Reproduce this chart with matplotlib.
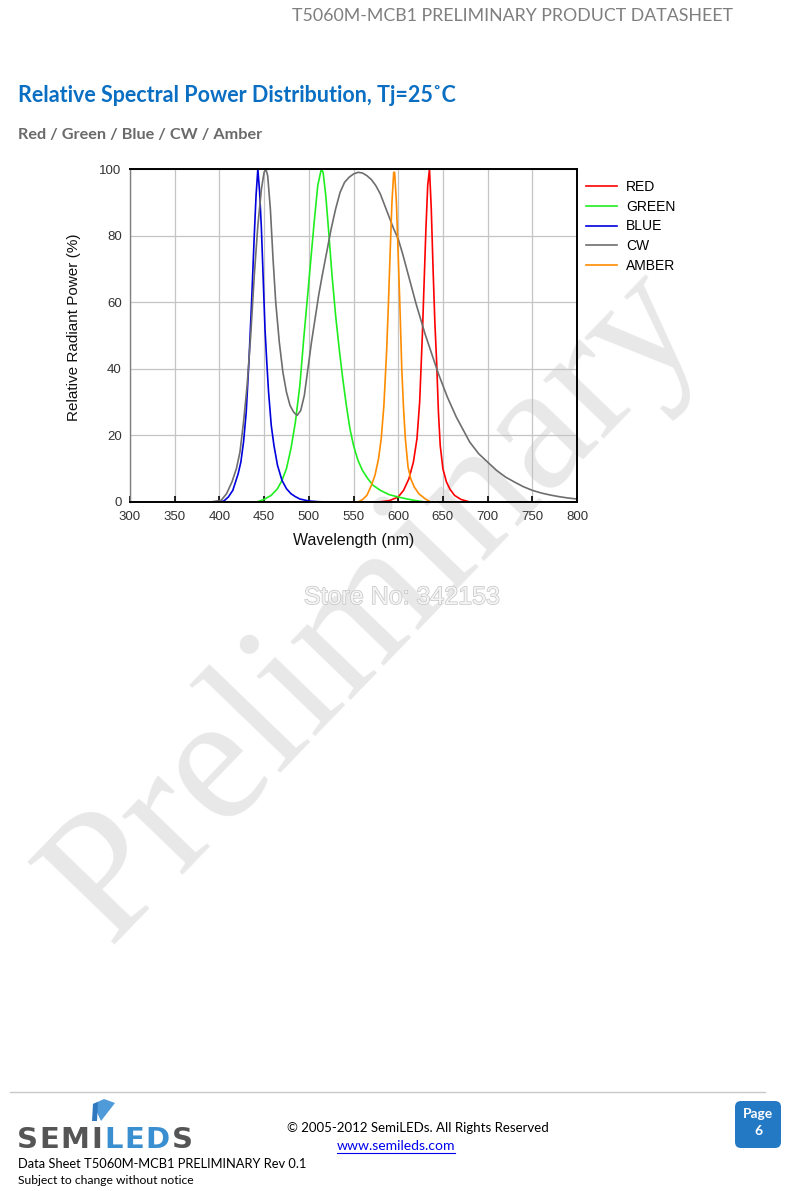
import numpy as np
import matplotlib
matplotlib.use("Agg")
import matplotlib.pyplot as plt
import matplotlib.patheffects as pe
from matplotlib.patches import FancyBboxPatch, Polygon
from matplotlib.transforms import Affine2D

nan = float("nan")

# spectra: wavelength (nm) / relative power (%)
RED_NM = [578, 590, 600, 606, 612, 617, 621, 624, 627, 629, 631, 633, 635,
          637, 639, 641, 643, 645, 647, 650, 654, 658, 663, 670, 680]
RED_PCT = [0, 0.4, 1.5, 3.5, 7, 12, 19, 30, 50, 66, 82, 95, 100,
           88, 70, 54, 42, 27, 17, 10, 6, 3.8, 2, 0.8, 0]

GREEN_NM = [442, 450, 458, 465, 470, 475, 480, 485, 490, 494, 498, 502, 506,
            510, 514, 516, 519, 522, 526, 530, 534, 538, 542, 546, 550, 555,
            560, 566, 572, 580, 590, 600, 610, 620, 630]
GREEN_PCT = [0, 0.8, 2, 4, 6.5, 10, 16, 24, 35, 48, 60, 72, 84,
             95, 100, 99, 92, 82, 68, 56, 46, 37, 29, 22, 17, 12.5,
             9.5, 7, 5, 3.5, 2.2, 1.5, 0.9, 0.4, 0]

BLUE_NM = [400, 405, 410, 415, 418, 421, 424, 427, 430, 433, 436, 439, 441,
           443, 445, 447, 449, 451, 453, 455, 458, 461, 465, 470, 475, 480,
           485, 490, 500, 510, 520, nan, 560, 640, nan, 780, 800]
BLUE_PCT = [0, 0.3, 1.5, 3.5, 6, 8.5, 12, 18, 27, 42, 60, 80, 92,
            100, 93, 82, 67, 52, 42, 33, 23, 17, 11, 6.5, 4, 2.5,
            1.6, 0.9, 0.3, 0.1, 0, nan, 0, 0, nan, 0, 0]

CW_NM = [390, 402, 408, 414, 419, 423, 427, 431, 435, 439, 443, 447, 450,
         452, 454, 457, 460, 463, 467, 471, 475, 479, 483, 487, 491, 495,
         499, 503, 507, 511, 515, 520, 525, 530, 535, 540, 545, 550, 555,
         560, 565, 570, 575, 580, 585, 590, 595, 600, 605, 610, 615, 620,
         625, 630, 635, 640, 645, 650, 655, 660, 665, 670, 675, 680, 690,
         700, 710, 720, 730, 740, 750, 760, 770, 780, 790, 800]
CW_PCT = [0, 0.5, 2.5, 6, 10, 15, 24, 35, 50, 68, 83, 94, 99,
          100, 98, 88, 73, 60, 48, 39, 33, 29, 27, 26, 27.5, 32,
          40, 48, 55, 62, 68, 75, 82, 88, 93, 96, 97.5, 98.5, 99,
          98.8, 98, 96.8, 95, 92.5, 89, 85.5, 82, 79, 74.5, 69.5, 64.5, 59.5,
          55, 50.5, 46.5, 42.5, 38.5, 35, 31.5, 28.5, 25.5, 23, 20.5, 18, 14.5,
          12, 9.5, 7.5, 6, 4.6, 3.5, 2.7, 2.1, 1.6, 1.2, 0.9]

AMBER_NM = [380, 555, 560, 565, 570, 574, 578, 581, 584, 587, 589, 591, 593,
            595, 596, 598, 600, 602, 604, 606, 608, 611, 614, 618, 623, 630,
            636, 780]
AMBER_PCT = [0, 0, 0.7, 2, 5, 8, 13, 19, 29, 45, 59, 75, 90,
             99, 99, 90, 74, 58, 40, 28, 19, 10.5, 7, 4.5, 2.5, 1,
             0, 0]

SERIES = ["RED", "GREEN", "BLUE", "CW", "AMBER"]
COLORS = ["#ff0000", "#1fee1f", "#0000dd", "#6e6e6e", "#ff8c00"]

X_TICKS = list(range(300, 801, 50))
Y_TICKS = list(range(0, 101, 20))

W, H = 800, 1191
fig = plt.figure(figsize=(W / 100, H / 100), dpi=100)
fig.patch.set_facecolor("white")

# pixel coords, y down
pix = Affine2D().scale(1 / 100, -1 / 100).translate(0, H / 100) + fig.dpi_scale_trans

# watermark behind everything
fig.text(376, 606, "Preliminary", transform=pix, rotation=46,
         rotation_mode="anchor", ha="center", va="center",
         family="Liberation Serif", fontsize=131, color="#e8e8e8", zorder=-10)

# header / titles
fig.text(733, 16, "T5060M-MCB1 PRELIMINARY PRODUCT DATASHEET", transform=pix,
         ha="right", va="center", family=["Lato", "DejaVu Sans"],
         fontsize=12.8, color="#7f7f7f")
fig.text(18, 96, "Relative Spectral Power Distribution, Tj=25\u02daC", transform=pix,
         ha="left", va="center", family=["Lato", "DejaVu Sans"],
         fontsize=15.5, fontweight="bold", color="#0a6fc2")
fig.text(18, 135, "Red / Green / Blue / CW / Amber", transform=pix,
         ha="left", va="center", family=["Lato", "DejaVu Sans"],
         fontsize=11.7, fontweight="bold", color="#6a6a6a")

# chart
left, right, top, bottom = 130, 577, 169, 502
ax = fig.add_axes([left / W, 1 - bottom / H, (right - left) / W, (bottom - top) / H])
ax.set_facecolor("none")

data = [(RED_NM, RED_PCT), (GREEN_NM, GREEN_PCT), (BLUE_NM, BLUE_PCT),
        (CW_NM, CW_PCT), (AMBER_NM, AMBER_PCT)]
for name, color, (xs, ys) in zip(SERIES, COLORS, data):
    ax.plot(xs, ys, color=color, lw=1.2, label=name, solid_joinstyle="round")

ax.set_xlim(300, 800)
ax.set_ylim(0, 100)
ax.set_xticks(X_TICKS)
ax.set_yticks(Y_TICKS)
ax.grid(True, color="#c4c4c4", lw=0.9)
ax.set_axisbelow(True)

for s in ["top", "right", "bottom"]:
    ax.spines[s].set_color("black")
    ax.spines[s].set_linewidth(1.4)
ax.spines["left"].set_color("#808080")
ax.spines["left"].set_linewidth(1.0)

ax.tick_params(axis="x", direction="in", length=4, width=1.2, color="black",
               labelsize=9.5, labelcolor="#333333", pad=6.5)
ax.tick_params(axis="y", length=0, labelsize=9.5, labelcolor="#333333", pad=6)
for lab in ax.get_xticklabels() + ax.get_yticklabels():
    lab.set_family("Liberation Sans")

ax.set_xlabel("Wavelength (nm)", family="Liberation Sans", fontsize=11.5, color="#111111")
ax.set_ylabel("Relative Radiant Power (%)", family="Liberation Sans", fontsize=11,
              color="#111111")
ax.xaxis.set_label_coords(0.5, -0.093)
ax.yaxis.set_label_coords(-0.11, 0.525)

leg = ax.legend(loc="upper left", bbox_to_anchor=(1.02, 0.966), frameon=False,
                borderaxespad=0, borderpad=0, handlelength=2.25,
                handletextpad=0.65, labelspacing=0.4,
                prop={"family": "Liberation Sans", "size": 10})

# store watermark
fig.text(402, 597, "Store No: 342153", transform=pix, ha="center", va="center",
         family="Liberation Sans", fontsize=18, color="#f4f4f4",
         path_effects=[pe.withStroke(linewidth=1.0, foreground="#c4c4c4")])

# footer
fig.add_artist(plt.Line2D([10, 765], [1092, 1092], transform=pix,
                          color="#c8c8c8", lw=1))

logo = [("S", 17, "#555555"), ("E", 39, "#555555"), ("M", 60, "#555555"),
        ("I", 91, "#555555"), ("L", 104, "#3a8fd0"), ("E", 124, "#3a8fd0"),
        ("D", 145, "#3a8fd0"), ("S", 172, "#555555")]
for ch, x, c in logo:
    fig.text(x, 1148, ch, transform=pix, ha="left", va="baseline",
             family="DejaVu Sans", fontsize=21, fontweight="bold", color=c)
fig.add_artist(Polygon([[93, 1104], [104, 1099], [115, 1103], [101, 1121]],
                       closed=True, transform=pix, color="#4f9ad8", lw=0))
fig.add_artist(Polygon([[93, 1104], [98, 1102], [97, 1121], [92, 1121]],
                       closed=True, transform=pix, color="#2f78c0", lw=0))

fig.text(287, 1128, "\u00a9 2005-2012 SemiLEDs. All Rights Reserved", transform=pix,
         ha="left", va="center", family=["Lato", "DejaVu Sans"], fontsize=9.5,
         color="black")
fig.text(337, 1146, "www.semileds.com", transform=pix, ha="left", va="center",
         family=["Lato", "DejaVu Sans"], fontsize=10.1, color="#0000ee")
fig.add_artist(plt.Line2D([337, 455], [1153, 1153], transform=pix,
                          color="#0000ee", lw=0.8))
fig.text(18, 1164, "Data Sheet T5060M-MCB1 PRELIMINARY Rev 0.1", transform=pix,
         ha="left", va="center", family=["Lato", "DejaVu Sans"], fontsize=9.3,
         color="black")
fig.text(18, 1181, "Subject to change without notice", transform=pix,
         ha="left", va="center", family=["Lato", "DejaVu Sans"], fontsize=8.7,
         color="black")

badge = FancyBboxPatch((735, 1101), 46, 47, boxstyle="round,pad=0,rounding_size=6",
                       transform=pix, facecolor="#2479c4", edgecolor="none")
fig.add_artist(badge)
fig.text(758, 1114, "Page", transform=pix, ha="center", va="center",
         family=["Lato", "DejaVu Sans"], fontsize=10, fontweight="bold", color="white")
fig.text(758, 1131, "6", transform=pix, ha="center", va="center",
         family=["Lato", "DejaVu Sans"], fontsize=10, fontweight="bold", color="white")

fig.savefig("out.png", dpi=100)
